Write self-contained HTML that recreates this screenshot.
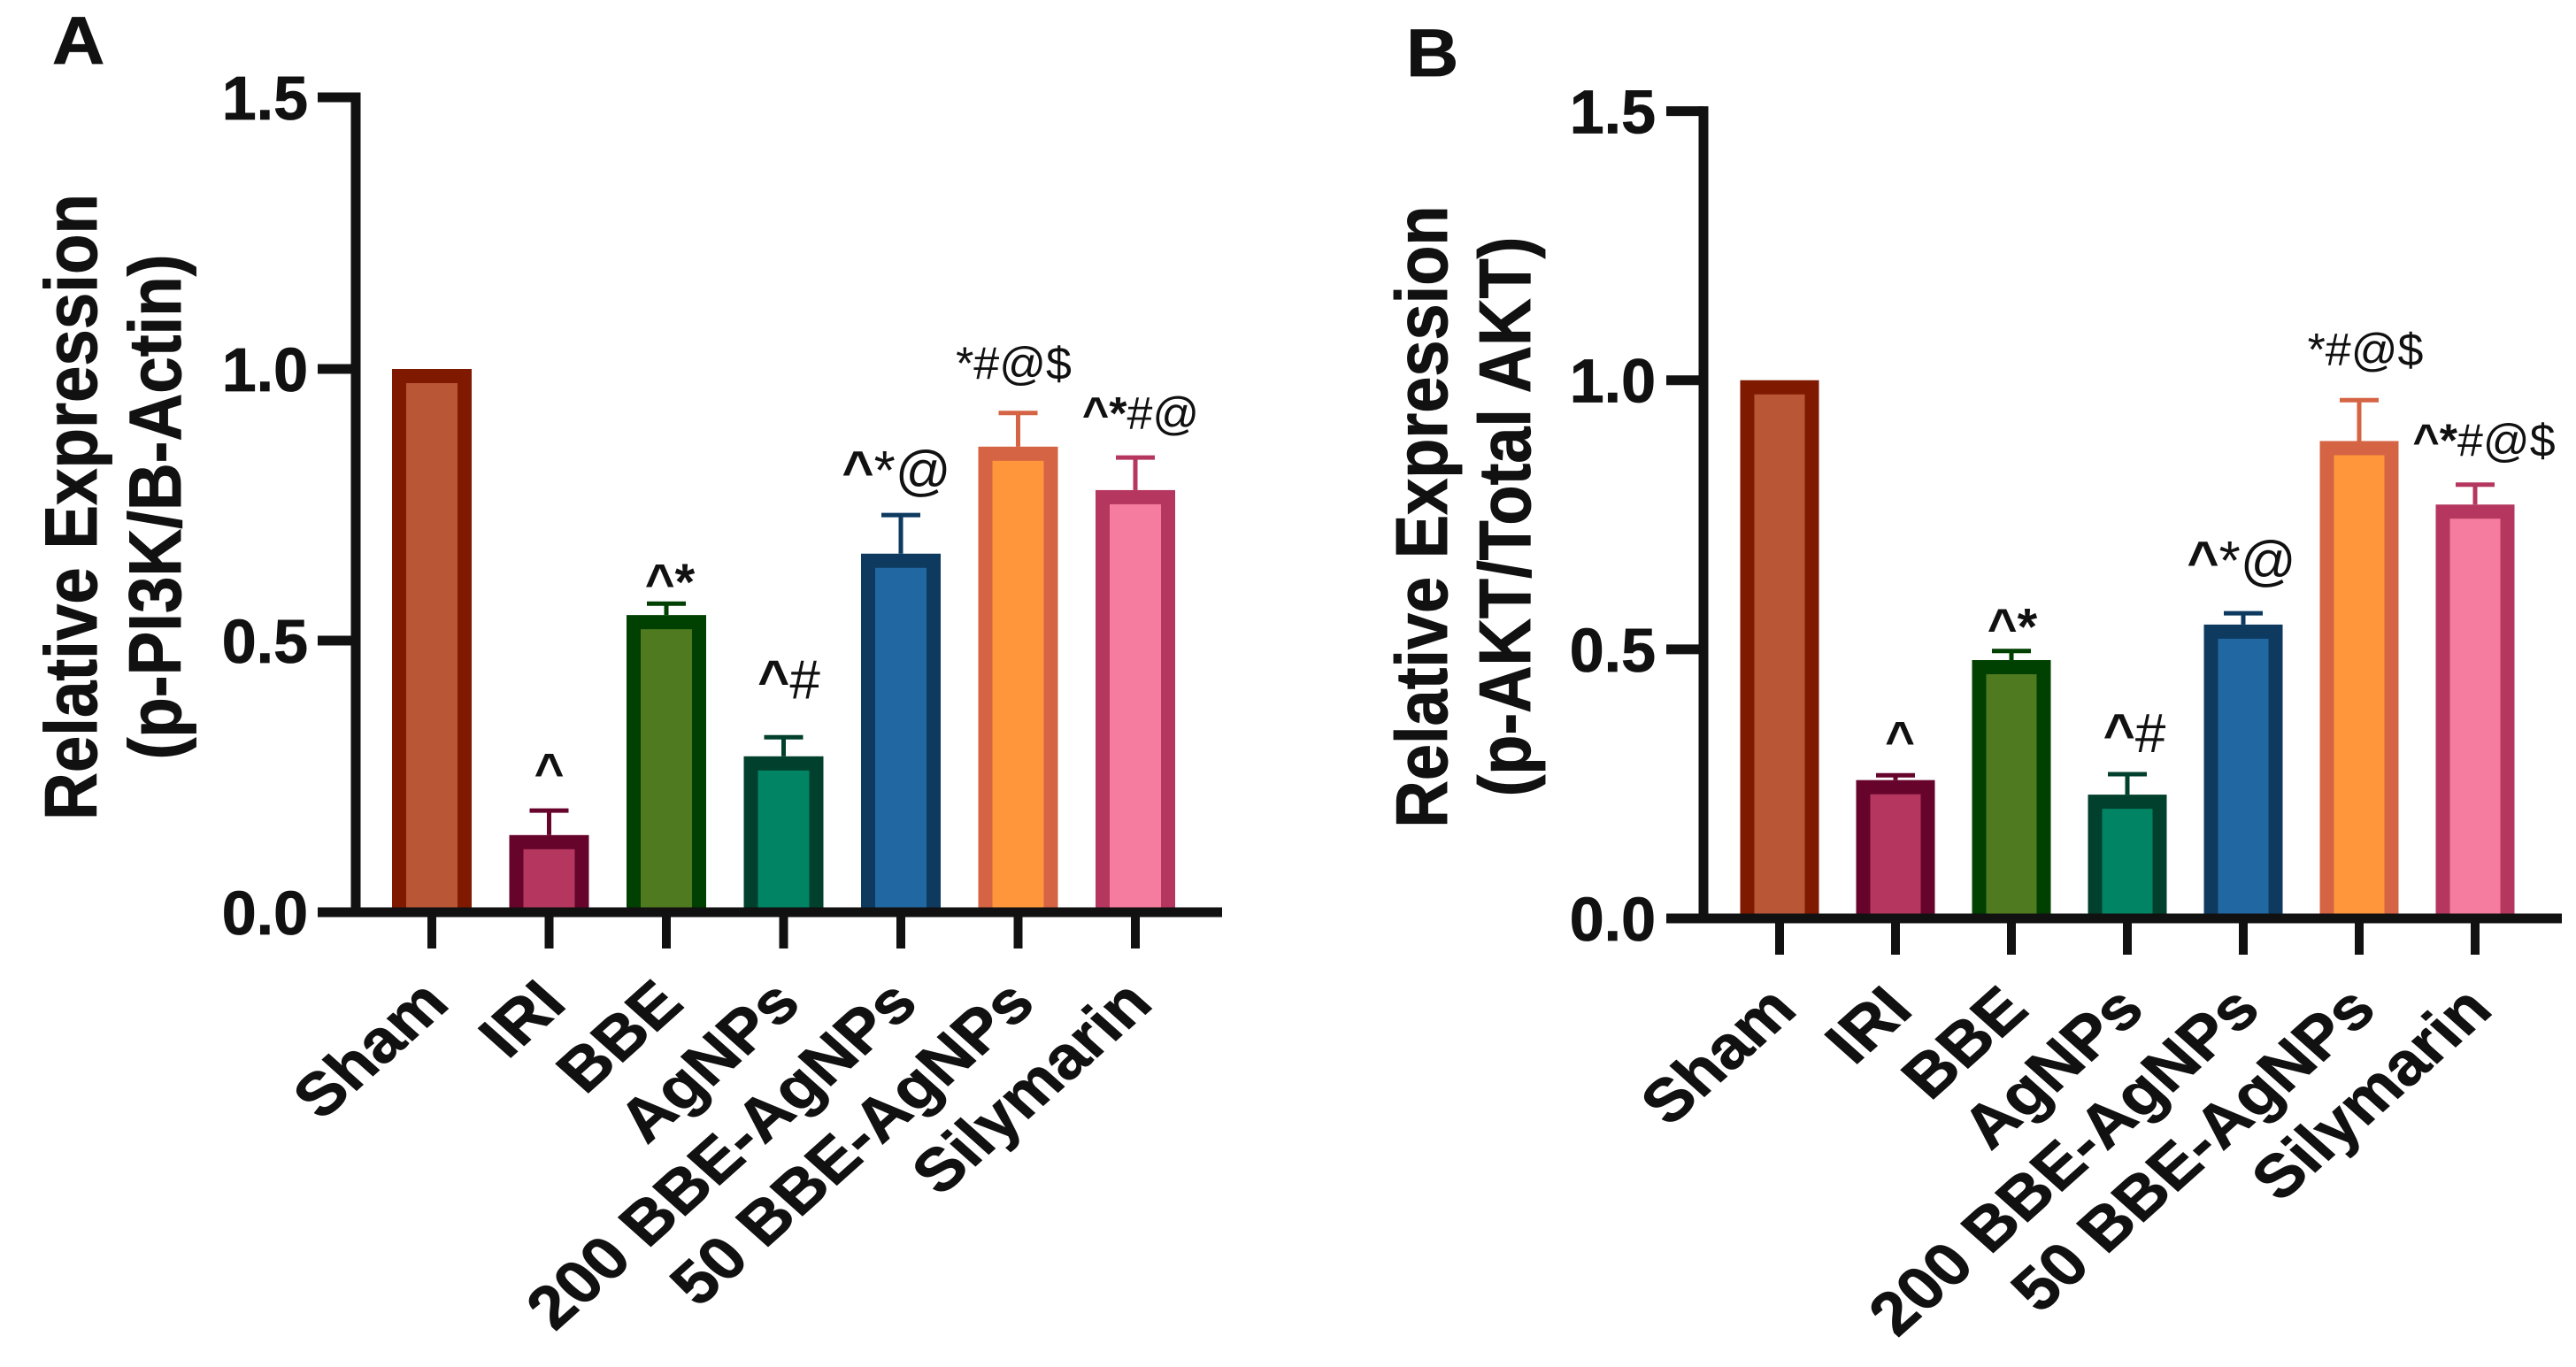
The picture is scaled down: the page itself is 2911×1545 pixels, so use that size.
<!DOCTYPE html>
<html lang="en">
<head>
<meta charset="utf-8">
<title>Relative expression bar charts</title>
<style>
html,body{margin:0;padding:0;background:#fff;}
svg{display:block;}
text{font-family:"Liberation Sans",Arial,sans-serif;fill:#111;}
text[font-weight="bold"]{stroke:#111;stroke-width:0.8px;}
</style>
</head>
<body>
<svg id="figure" xmlns="http://www.w3.org/2000/svg" width="2911" height="1545" viewBox="0 0 2911 1545"></svg>
<script>
const categories = ["Sham", "IRI", "BBE", "AgNPs", "200 BBE-AgNPs", "50 BBE-AgNPs", "Silymarin"];
const yTicks = [0, 0.5, 1, 1.5];
const valuesA = [1, 0.142, 0.547, 0.287, 0.66, 0.857, 0.777];
const errorsA = [0, 0.045, 0.021, 0.035, 0.071, 0.062, 0.06];
const labelsA = ["", "^", "^*", "^#", "^*@", "*#@$", "^*#@"];
const valuesB = [1, 0.257, 0.48, 0.23, 0.546, 0.887, 0.769];
const errorsB = [0, 0.009, 0.017, 0.038, 0.021, 0.076, 0.037];
const labelsB = ["", "^", "^*", "^#", "^*@", "*#@$", "^*#@$"];

const borderColors = ["#7f1a00", "#66042c", "#004000", "#00402c", "#0f3a60", "#d46443", "#b5375f"];
const fillColors = ["#b85636", "#b5375f", "#507a1f", "#008464", "#2167a1", "#ff963c", "#f57c9e"];

const NS = "http://www.w3.org/2000/svg";
const figure = document.getElementById("figure");
const STRETCH = 1.12;

function make(tag, attrs, parent) {
  const el = document.createElementNS(NS, tag);
  for (const k in attrs) el.setAttribute(k, attrs[k]);
  parent.appendChild(el);
  return el;
}

function drawPanel(p) {
  const panel = make("g", {}, figure);
  
  

  const yScale = v => p.y0 - v * (p.y0 - p.yTop) / 1.5;
  const xScale = i => p.x0 + i * p.step;

  const letter = make("text", {
    transform: "translate(" + p.letterX + "," + p.letterY + ") scale(1.08,1)",
    "font-size": 76, "font-weight": "bold"
  }, panel);
  letter.textContent = p.id;
  
  

  p.titleLines.forEach((line, i) => {
    const t = make("text", {
      transform: "translate(" + line.x + "," + p.titleY + ") scale(" + STRETCH + ",1) rotate(-90)",
      "font-size": line.size, "font-weight": "bold", "text-anchor": "middle"
    }, panel);
    t.textContent = line.text;
    
    
  });

  categories.forEach((cat, i) => {
    const cx = xScale(i);
    const top = yScale(p.values[i]);
    const sw = 16, w = p.barWidth;

    if (p.errors[i] > 0) {
      const capY = yScale(p.values[i] + p.errors[i]);
      const stem = make("line", {
        x1: cx + p.barShift, x2: cx + p.barShift, y1: capY, y2: top,
        stroke: borderColors[i], "stroke-width": 5
      }, panel);
      
      
      const cap = make("line", {
        x1: cx + p.barShift - 22, x2: cx + p.barShift + 22, y1: capY, y2: capY,
        stroke: borderColors[i], "stroke-width": 5
      }, panel);
      
      
    }

    const bar = make("rect", {
      x: cx + p.barShift - w / 2, y: top,
      width: w, height: Math.max(0, p.y0 - top),
      fill: borderColors[i]
    }, panel);
    
    

    const barFill = make("rect", {
      x: cx + p.barShift - w / 2 + sw, y: top + sw,
      width: w - 2 * sw, height: Math.max(0, p.y0 - top - sw),
      fill: fillColors[i]
    }, panel);
    
    

    const tick = make("line", {
      x1: cx, x2: cx, y1: p.y0, y2: p.y0 + 41, stroke: "#111", "stroke-width": 10
    }, panel);
    
    

    const lab = make("text", {
      transform: "translate(" + (cx + 22) + "," + (p.y0 + 106) + ") scale(" + STRETCH + ",1) rotate(-45)",
      "font-size": 68, "font-weight": "bold", "text-anchor": "end"
    }, panel);
    lab.textContent = cat;
    
    

    const text = p.labels[i];
    if (text) {
      const place = p.annotationPlacement[i];
      const ann = make("text", {
        transform: "translate(" + (cx + place.dx) + "," + (yScale(p.values[i] + p.errors[i]) - place.gap) + ")",
        "font-size": place.size, "text-anchor": "middle"
      }, panel);
      
      
      const bold = make("tspan", { "font-weight": "bold" }, ann);
      bold.textContent = text.slice(0, place.boldChars);
      const plain = make("tspan", {}, ann);
      plain.textContent = text.slice(place.boldChars);
    }
  });

  yTicks.forEach(v => {
    const y = yScale(v);
    const tick = make("line", {
      x1: p.axisLeft, x2: p.axisX, y1: y, y2: y, stroke: "#111", "stroke-width": 11
    }, panel);
    
    
    const lab = make("text", {
      transform: "translate(" + p.yLabelX + "," + (y + 25) + ")",
      "font-size": 70, "font-weight": "bold", "text-anchor": "end"
    }, panel);
    lab.textContent = v.toFixed(1);
    
    
  });

  const yAxis = make("line", {
    x1: p.axisX, x2: p.axisX, y1: p.yTop - 5.5, y2: p.y0 + 5.5, stroke: "#111", "stroke-width": 11
  }, panel);
  
  

  const xAxis = make("line", {
    x1: p.axisLeft, x2: p.axisRight, y1: p.y0, y2: p.y0, stroke: "#111", "stroke-width": 11
  }, panel);
  
  
}

drawPanel({
  id: "A", values: valuesA, errors: errorsA, labels: labelsA,
  y0: 1031, yTop: 110, x0: 488, step: 132.5, barWidth: 90, barShift: 0,
  axisX: 402, axisLeft: 359, axisRight: 1381, yLabelX: 348,
  letterX: 59, letterY: 72, titleY: 573,
  titleLines: [
    { text: "Relative Expression", x: 109, size: 74.5 },
    { text: "(p-PI3K/B-Actin)", x: 204, size: 74.5 }
  ],
  annotationPlacement: [
    null,
    { dx: 0, gap: 24, size: 58, boldChars: 1 },
    { dx: 4, gap: 4, size: 58, boldChars: 2 },
    { dx: 6, gap: 44, size: 62, boldChars: 1 },
    { dx: -5, gap: 29, size: 62, boldChars: 1 },
    { dx: -5, gap: 38, size: 52, boldChars: 0 },
    { dx: 6, gap: 32, size: 52, boldChars: 2 }
  ]
});

drawPanel({
  id: "B", values: valuesB, errors: errorsB, labels: labelsB,
  y0: 1038, yTop: 125.6, x0: 2011, step: 131, barWidth: 89, barShift: 0,
  axisX: 1925, axisLeft: 1883, axisRight: 2895, yLabelX: 1871,
  letterX: 1589, letterY: 86, titleY: 584,
  titleLines: [
    { text: "Relative Expression", x: 1635, size: 74 },
    { text: "(p-AKT/Total AKT)", x: 1729, size: 74 }
  ],
  annotationPlacement: [
    null,
    { dx: 5, gap: 20, size: 58, boldChars: 1 },
    { dx: 1, gap: 7, size: 58, boldChars: 2 },
    { dx: 8, gap: 25, size: 62, boldChars: 1 },
    { dx: -2, gap: 38, size: 62, boldChars: 1 },
    { dx: 7, gap: 39, size: 52, boldChars: 0 },
    { dx: 10, gap: 32, size: 52, boldChars: 2 }
  ]
});
</script>
</body>
</html>
